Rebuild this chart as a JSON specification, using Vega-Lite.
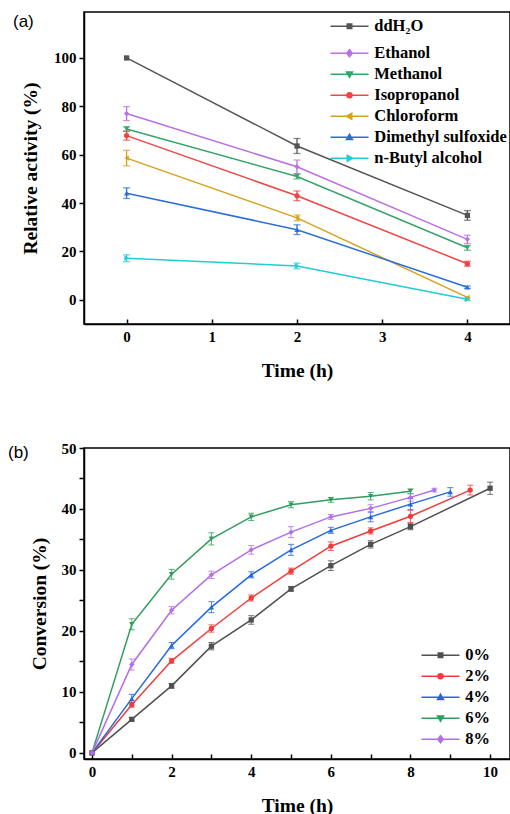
{
  "$schema": "https://vega.github.io/schema/vega-lite/v6.json",
  "padding": {"left": 7, "top": 11, "right": 0, "bottom": 0},
  "bounds": "flush",
  "spacing": 124,
  "resolve": {"scale": {"color": "independent"}, "legend": {"color": "independent"}},
  "config": {
    "view": {"stroke": "#000", "strokeWidth": 1.5},
    "axis": {"grid": false, "domainColor": "#000", "domainWidth": 1.5, "tickColor": "#000", "tickWidth": 1.5,
      "labelFont": "Liberation Serif", "labelFontWeight": "bold", "labelFontSize": 15, "labelColor": "#000",
      "titleFont": "Liberation Serif", "titleFontWeight": "bold", "titleFontSize": 19.5, "titleColor": "#000"},
    "legend": {"labelFont": "Liberation Serif", "labelFontWeight": "bold", "labelFontSize": 16.5, "labelColor": "#000",
      "symbolSize": 100, "symbolStrokeWidth": 1.5, "symbolOffset": 13.25, "labelOffset": 16.5, "rowPadding": 4, "padding": 0}
  },
  "vconcat": [
    {
      "width": 426, "height": 312,
      "title": {"text": "(a)", "anchor": "start", "frame": "group", "dx": -71, "offset": -27, "baseline": "middle",
        "font": "Liberation Sans", "fontSize": 17, "fontWeight": "normal", "color": "#000"},
      "data": {"values": [
        {"t": 0, "v": 100, "e": 0, "s": "ddH₂O"}, {"t": 2, "v": 63.6, "e": 3.1, "s": "ddH₂O"}, {"t": 4, "v": 34.9, "e": 2, "s": "ddH₂O"},
        {"t": 0, "v": 77, "e": 2.9, "s": "Ethanol"}, {"t": 2, "v": 55, "e": 2.8, "s": "Ethanol"}, {"t": 4, "v": 25, "e": 1.7, "s": "Ethanol"},
        {"t": 0, "v": 70.6, "e": 1, "s": "Methanol"}, {"t": 2, "v": 51, "e": 1, "s": "Methanol"}, {"t": 4, "v": 21.5, "e": 1, "s": "Methanol"},
        {"t": 0, "v": 67.9, "e": 1.9, "s": "Isopropanol"}, {"t": 2, "v": 43, "e": 2, "s": "Isopropanol"}, {"t": 4, "v": 14.9, "e": 1, "s": "Isopropanol"},
        {"t": 0, "v": 58.6, "e": 3.2, "s": "Chloroform"}, {"t": 2, "v": 33.9, "e": 1.2, "s": "Chloroform"}, {"t": 4, "v": 1, "e": 0, "s": "Chloroform"},
        {"t": 0, "v": 44.1, "e": 2.2, "s": "Dimethyl sulfoxide"}, {"t": 2, "v": 29, "e": 2, "s": "Dimethyl sulfoxide"}, {"t": 4, "v": 5.2, "e": 0.5, "s": "Dimethyl sulfoxide"},
        {"t": 0, "v": 17.2, "e": 1.4, "s": "n-Butyl alcohol"}, {"t": 2, "v": 14, "e": 1.2, "s": "n-Butyl alcohol"}, {"t": 4, "v": 0.2, "e": 0.5, "s": "n-Butyl alcohol"}
      ]},
      "encoding": {
        "x": {"field": "t", "type": "quantitative", "scale": {"domain": [-0.5, 4.5], "nice": false, "zero": false},
          "axis": {"values": [0, 1, 2, 3, 4], "title": "Time (h)", "tickSize": -5, "labelPadding": 10, "titlePadding": 17}},
        "y": {"field": "v", "type": "quantitative", "scale": {"domain": [-10, 119], "nice": false, "zero": false},
          "axis": {"values": [0, 20, 40, 60, 80, 100], "title": "Relative activity (%)", "tickSize": 5, "labelPadding": 3, "titlePadding": 13}}
      },
      "layer": [
        {
          "mark": {"type": "line", "strokeWidth": 1.5},
          "encoding": {
            "color": {"field": "s", "type": "nominal",
              "scale": {"domain": ["ddH₂O", "Ethanol", "Methanol", "Isopropanol", "Chloroform", "Dimethyl sulfoxide", "n-Butyl alcohol"],
                "range": ["#555555", "#bb6fe6", "#35a56a", "#ef4545", "#d6a21e", "#2b6fd6", "#20cdd6"]},
              "legend": {"title": null, "orient": "none", "legendX": 244, "legendY": 6,
                "encode": {"symbols": {"update": {
                  "shape": {"signal": "datum.value === 'ddH₂O' ? 'M-3.8,0H3.8M-0.45,-0.45H0.45V0.45H-0.45ZM0,2.25' : datum.value === 'Ethanol' ? 'M-3.8,0H3.8M0,-0.7L0.55,0L0,0.7L-0.55,0Z' : datum.value === 'Methanol' ? 'M-3.8,0H3.8M-0.6,-0.45H0.6L0,0.6Z' : datum.value === 'Isopropanol' ? 'M-3.8,0H3.8M-0.5,0A0.5,0.5,0,1,0,0.5,0A0.5,0.5,0,1,0,-0.5,0Z' : datum.value === 'Chloroform' ? 'M-3.8,0H3.8M-0.6,0L0.45,-0.6V0.6Z' : datum.value === 'Dimethyl sulfoxide' ? 'M-3.8,0H3.8M-0.6,0.45H0.6L0,-0.6Z' : 'M-3.8,0H3.8M0.6,0L-0.45,-0.6V0.6Z'"},
                  "fill": {"signal": "datum.value === 'ddH₂O' ? '#555555' : datum.value === 'Ethanol' ? '#bb6fe6' : datum.value === 'Methanol' ? '#35a56a' : datum.value === 'Isopropanol' ? '#ef4545' : datum.value === 'Chloroform' ? '#d6a21e' : datum.value === 'Dimethyl sulfoxide' ? '#2b6fd6' : '#20cdd6'"},
                  "stroke": {"signal": "datum.value === 'ddH₂O' ? '#555555' : datum.value === 'Ethanol' ? '#bb6fe6' : datum.value === 'Methanol' ? '#35a56a' : datum.value === 'Isopropanol' ? '#ef4545' : datum.value === 'Chloroform' ? '#d6a21e' : datum.value === 'Dimethyl sulfoxide' ? '#2b6fd6' : '#20cdd6'"},
                  "strokeWidth": {"value": 1.5},
                  "opacity": {"value": 1}
                }}}}
            }
          }
        },
        {
          "transform": [{"filter": "datum.e > 0"}],
          "mark": {"type": "errorbar", "ticks": {"size": 7}, "thickness": 1.3},
          "encoding": {
            "yError": {"field": "e"},
            "color": {"field": "s", "type": "nominal",
              "scale": {"domain": ["ddH₂O", "Ethanol", "Methanol", "Isopropanol", "Chloroform", "Dimethyl sulfoxide", "n-Butyl alcohol"],
                "range": ["#555555", "#bb6fe6", "#35a56a", "#ef4545", "#d6a21e", "#2b6fd6", "#20cdd6"]},
              "legend": null}
          }
        },
        {
          "mark": {"type": "point", "filled": true, "size": 28, "opacity": 1},
          "encoding": {
            "color": {"field": "s", "type": "nominal",
              "scale": {"domain": ["ddH₂O", "Ethanol", "Methanol", "Isopropanol", "Chloroform", "Dimethyl sulfoxide", "n-Butyl alcohol"],
                "range": ["#555555", "#bb6fe6", "#35a56a", "#ef4545", "#d6a21e", "#2b6fd6", "#20cdd6"]},
              "legend": null},
            "shape": {"condition": [
              {"test": "datum.s === 'ddH₂O'", "value": "square"},
              {"test": "datum.s === 'Ethanol'", "value": "diamond"},
              {"test": "datum.s === 'Methanol'", "value": "triangle-down"},
              {"test": "datum.s === 'Isopropanol'", "value": "circle"},
              {"test": "datum.s === 'Chloroform'", "value": "triangle-left"},
              {"test": "datum.s === 'Dimethyl sulfoxide'", "value": "triangle-up"}
            ], "value": "triangle-right"}
          }
        }
      ]
    },
    {
      "width": 426, "height": 311,
      "title": {"text": "(b)", "anchor": "start", "frame": "group", "dx": -76, "offset": -29, "baseline": "middle",
        "font": "Liberation Sans", "fontSize": 17, "fontWeight": "normal", "color": "#000"},
      "data": {"values": [
        {"t": 0, "c": 0, "e": 0, "p": "0%"}, {"t": 1, "c": 5.5, "e": 0.3, "p": "0%"}, {"t": 2, "c": 11.0, "e": 0.4, "p": "0%"}, {"t": 3, "c": 17.5, "e": 0.6, "p": "0%"}, {"t": 4, "c": 21.8, "e": 0.7, "p": "0%"}, {"t": 5, "c": 26.9, "e": 0.4, "p": "0%"}, {"t": 6, "c": 30.7, "e": 0.8, "p": "0%"}, {"t": 7, "c": 34.2, "e": 0.6, "p": "0%"}, {"t": 8, "c": 37.1, "e": 0.5, "p": "0%"}, {"t": 10, "c": 43.4, "e": 1.0, "p": "0%"},
        {"t": 0, "c": 0, "e": 0, "p": "2%"}, {"t": 1, "c": 7.9, "e": 0.4, "p": "2%"}, {"t": 2, "c": 15.1, "e": 0.4, "p": "2%"}, {"t": 3, "c": 20.4, "e": 0.6, "p": "2%"}, {"t": 4, "c": 25.4, "e": 0.5, "p": "2%"}, {"t": 5, "c": 29.8, "e": 0.5, "p": "2%"}, {"t": 6, "c": 33.9, "e": 0.7, "p": "2%"}, {"t": 7, "c": 36.4, "e": 0.5, "p": "2%"}, {"t": 8, "c": 38.8, "e": 1.0, "p": "2%"}, {"t": 9.5, "c": 43.1, "e": 0.8, "p": "2%"},
        {"t": 0, "c": 0, "e": 0, "p": "4%"}, {"t": 1, "c": 8.9, "e": 0.7, "p": "4%"}, {"t": 2, "c": 17.6, "e": 0.5, "p": "4%"}, {"t": 3, "c": 23.9, "e": 0.9, "p": "4%"}, {"t": 4, "c": 29.2, "e": 0.5, "p": "4%"}, {"t": 5, "c": 33.3, "e": 0.9, "p": "4%"}, {"t": 6, "c": 36.5, "e": 0.5, "p": "4%"}, {"t": 7, "c": 38.7, "e": 0.8, "p": "4%"}, {"t": 8, "c": 40.8, "e": 0.9, "p": "4%"}, {"t": 9, "c": 42.8, "e": 0.7, "p": "4%"},
        {"t": 0, "c": 0, "e": 0, "p": "6%"}, {"t": 1, "c": 21.1, "e": 0.9, "p": "6%"}, {"t": 2, "c": 29.3, "e": 0.8, "p": "6%"}, {"t": 3, "c": 35.1, "e": 1.0, "p": "6%"}, {"t": 4, "c": 38.7, "e": 0.6, "p": "6%"}, {"t": 5, "c": 40.7, "e": 0.5, "p": "6%"}, {"t": 6, "c": 41.5, "e": 0.4, "p": "6%"}, {"t": 7, "c": 42.1, "e": 0.6, "p": "6%"}, {"t": 8, "c": 42.9, "e": 0.4, "p": "6%"},
        {"t": 0, "c": 0, "e": 0, "p": "8%"}, {"t": 1, "c": 14.5, "e": 0.9, "p": "8%"}, {"t": 2, "c": 23.4, "e": 0.6, "p": "8%"}, {"t": 3, "c": 29.2, "e": 0.6, "p": "8%"}, {"t": 4, "c": 33.3, "e": 0.7, "p": "8%"}, {"t": 5, "c": 36.2, "e": 0.9, "p": "8%"}, {"t": 6, "c": 38.7, "e": 0.4, "p": "8%"}, {"t": 7, "c": 40.1, "e": 0.6, "p": "8%"}, {"t": 8, "c": 41.9, "e": 0.6, "p": "8%"}, {"t": 8.6, "c": 43.1, "e": 0.3, "p": "8%"}
      ]},
      "encoding": {
        "x": {"field": "t", "type": "quantitative", "scale": {"domain": [-0.2, 10.5], "nice": false, "zero": false},
          "axis": {"values": [0, 1, 2, 3, 4, 5, 6, 7, 8, 9, 10], "labelExpr": "datum.value % 2 === 0 ? datum.label : ''",
            "title": "Time (h)", "tickSize": -5, "labelPadding": 10, "titlePadding": 17}},
        "y": {"field": "c", "type": "quantitative", "scale": {"domain": [-1, 50], "nice": false, "zero": false},
          "axis": {"values": [0, 5, 10, 15, 20, 25, 30, 35, 40, 45, 50], "labelExpr": "datum.value % 10 === 0 ? datum.label : ''",
            "title": "Conversion (%)", "tickSize": 5, "labelPadding": 3, "titlePadding": 12}}
      },
      "layer": [
        {
          "mark": {"type": "line", "strokeWidth": 1.5},
          "encoding": {
            "color": {"field": "p", "type": "nominal",
              "scale": {"domain": ["0%", "2%", "4%", "6%", "8%"], "range": ["#505050", "#f03c3c", "#2468e0", "#2f9e5c", "#b36ee8"]},
              "legend": {"title": null, "orient": "none", "legendX": 335, "legendY": 199,
                "encode": {"symbols": {"update": {
                  "shape": {"signal": "datum.value === '0%' ? 'M-3.8,0H3.8M-0.45,-0.45H0.45V0.45H-0.45Z' : datum.value === '2%' ? 'M-3.8,0H3.8M-0.5,0A0.5,0.5,0,1,0,0.5,0A0.5,0.5,0,1,0,-0.5,0Z' : datum.value === '4%' ? 'M-3.8,0H3.8M-0.6,0.45H0.6L0,-0.6Z' : datum.value === '6%' ? 'M-3.8,0H3.8M-0.6,-0.45H0.6L0,0.6Z' : 'M-3.8,0H3.8M0,-0.7L0.55,0L0,0.7L-0.55,0Z'"},
                  "fill": {"signal": "datum.value === '0%' ? '#505050' : datum.value === '2%' ? '#f03c3c' : datum.value === '4%' ? '#2468e0' : datum.value === '6%' ? '#2f9e5c' : '#b36ee8'"},
                  "stroke": {"signal": "datum.value === '0%' ? '#505050' : datum.value === '2%' ? '#f03c3c' : datum.value === '4%' ? '#2468e0' : datum.value === '6%' ? '#2f9e5c' : '#b36ee8'"},
                  "strokeWidth": {"value": 1.5},
                  "opacity": {"value": 1}
                }}}}
            }
          }
        },
        {
          "transform": [{"filter": "datum.e > 0"}],
          "mark": {"type": "errorbar", "ticks": {"size": 6}, "thickness": 1, "opacity": 0.8},
          "encoding": {
            "yError": {"field": "e"},
            "color": {"field": "p", "type": "nominal",
              "scale": {"domain": ["0%", "2%", "4%", "6%", "8%"], "range": ["#505050", "#f03c3c", "#2468e0", "#2f9e5c", "#b36ee8"]},
              "legend": null}
          }
        },
        {
          "mark": {"type": "point", "filled": true, "size": 28, "opacity": 1},
          "encoding": {
            "color": {"field": "p", "type": "nominal",
              "scale": {"domain": ["0%", "2%", "4%", "6%", "8%"], "range": ["#505050", "#f03c3c", "#2468e0", "#2f9e5c", "#b36ee8"]},
              "legend": null},
            "shape": {"condition": [
              {"test": "datum.p === '0%'", "value": "square"},
              {"test": "datum.p === '2%'", "value": "circle"},
              {"test": "datum.p === '4%'", "value": "triangle-up"},
              {"test": "datum.p === '6%'", "value": "triangle-down"}
            ], "value": "diamond"}
          }
        }
      ]
    }
  ]
}
